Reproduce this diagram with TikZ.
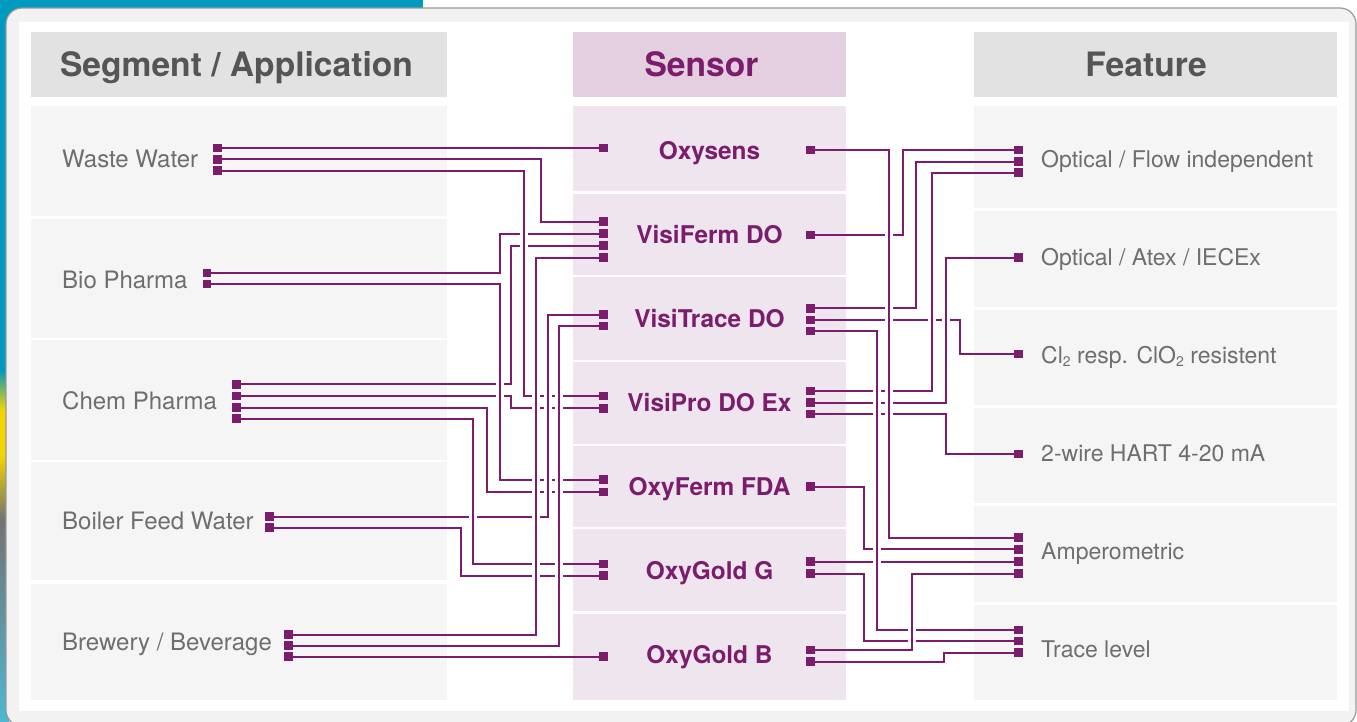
\documentclass[tikz,border=0pt]{standalone}
\usepackage{fontspec}
\setmainfont{TeX Gyre Heros}
\definecolor{pur}{HTML}{7B1C6C}
\definecolor{hdrgray}{HTML}{E2E2E2}
\definecolor{rowgray}{HTML}{F5F5F5}
\definecolor{shdr}{HTML}{E3CFE0}
\definecolor{srow}{HTML}{EEE5EE}
\definecolor{hdrtext}{HTML}{555555}
\definecolor{lbltext}{HTML}{6E6E6E}
\definecolor{panelc}{HTML}{F2F2F2}
\definecolor{bgblue}{HTML}{0099BF}
\definecolor{bgyellow}{HTML}{F2D500}
\tikzset{
 sq/.style={fill=pur, minimum size=8.5pt, inner sep=0pt, outer sep=0pt},
 conn/.style={draw=pur, line width=2pt},
 halo/.style={draw=white, line width=8pt, shorten <=3.5pt, shorten >=3.5pt},
 lbl/.style={anchor=base west, text=lbltext, font=\fontsize{23}{27}\selectfont, inner sep=0pt},
 lbll/.style={lbl, font=\fontsize{24}{28}\selectfont},
 sens/.style={anchor=base, text=pur, font=\fontsize{24.4}{28}\selectfont\bfseries, inner sep=0pt},
 hdr/.style={anchor=base, font=\fontsize{33.6}{38}\selectfont\bfseries, inner sep=0pt},
}
\newcommand\subtwo{\raisebox{-0.28ex}{\fontsize{14}{14}\selectfont 2}}
\begin{document}
\begin{tikzpicture}[x=1pt,y=-1pt]
\useasboundingbox (0,0) rectangle (1357,721);
% background
\fill[white] (0,0) rectangle (1357,721);
\fill[bgblue] (0,0) rectangle (423,14);
\fill[bgblue] (0,0) rectangle (9,721);
\shade[top color=bgblue, bottom color=bgyellow] (0,370) rectangle (9,410);
\fill[bgyellow] (0,410) rectangle (9,455);
\shade[top color=bgyellow, bottom color=black!55] (0,455) rectangle (9,520);
\shade[top color=black!55, bottom color=bgblue!70] (0,520) rectangle (9,721);
% panel
\draw[fill=panelc, draw=black!40, line width=1.2pt, rounded corners=16pt] (6,8) rectangle (1356,726);
\fill[white] (19,21.5) rectangle (1349,711);
% column boxes
\fill[hdrgray] (31,32) rectangle (447,97);
\foreach \t/\b in {106/216,219/338,340/460,462/580,584/700}
  \fill[rowgray] (31,\t) rectangle (447,\b);
\fill[shdr] (573,32) rectangle (846,97);
\foreach \t/\b in {106/191,194/274.5,277/360,362/443.5,446/527,529/611,614/700}
  \fill[srow] (573,\t) rectangle (846,\b);
\fill[hdrgray] (974,32) rectangle (1337,97);
\foreach \t/\b in {106/208,211/306.5,309.5/405,408/503,506/602,605/700}
  \fill[rowgray] (974,\t) rectangle (1337,\b);
% headers
\node[hdr, text=hdrtext] (h1) at (236.5,76) {Segment / Application};
\node[hdr, text=pur] (h2) at (701.5,76) {Sensor};
\node[hdr, text=hdrtext] (h3) at (1146,76) {Feature};
% left labels
\node[lbll] (l1) at (62,167) {Waste Water};
\node[lbll] (l2) at (62,288) {Bio Pharma};
\node[lbll] (l3) at (62,409) {Chem Pharma};
\node[lbll] (l4) at (62,529.5) {Boiler Feed Water};
\node[lbll] (l5) at (62,650.5) {Brewery / Beverage};
% sensor labels
\node[sens] (s1) at (709.5,159.5) {Oxysens};
\node[sens] (s2) at (709.5,243.5) {VisiFerm DO};
\node[sens] (s3) at (709.5,327.5) {VisiTrace DO};
\node[sens] (s4) at (709.5,411.5) {VisiPro DO Ex};
\node[sens] (s5) at (709.5,495.5) {OxyFerm FDA};
\node[sens] (s6) at (709.5,579.5) {OxyGold G};
\node[sens] (s7) at (709.5,663.5) {OxyGold B};
% feature labels
\node[lbl] (r1) at (1041,167) {Optical / Flow independent};
\node[lbl] (r2) at (1041,265) {Optical / Atex / IECEx};
\node[lbl] (r3) at (1041,363.5) {Cl\subtwo{} resp. ClO\subtwo{} resistent};
\node[lbl] (r4) at (1041,461.5) {2-wire HART 4-20 mA};
\node[lbl] (r5) at (1041,559.5) {Amperometric};
\node[lbl] (r6) at (1041,657.5) {Trace level};
% left squares
\node[sq] (ww1) at (217.5,148) {};
\node[sq] (ww2) at (217.5,159.3) {};
\node[sq] (ww3) at (217.5,170.7) {};
\node[sq] (bp1) at (207,273) {};
\node[sq] (bp2) at (207,284) {};
\node[sq] (cp1) at (236.5,384.3) {};
\node[sq] (cp2) at (236.5,396) {};
\node[sq] (cp3) at (236.5,407.7) {};
\node[sq] (cp4) at (236.5,418.7) {};
\node[sq] (bf1) at (269.5,516.7) {};
\node[sq] (bf2) at (269.5,527.7) {};
\node[sq] (bb1) at (288.5,634.7) {};
\node[sq] (bb2) at (288.5,645.7) {};
\node[sq] (bb3) at (288.5,656.7) {};
% sensor left squares
\node[sq] (oxL) at (603.5,148) {};
\node[sq] (vfL1) at (603.5,221.7) {};
\node[sq] (vfL2) at (603.5,233.7) {};
\node[sq] (vfL3) at (603.5,245.7) {};
\node[sq] (vfL4) at (603.5,257.7) {};
\node[sq] (vtL1) at (603.5,314.7) {};
\node[sq] (vtL2) at (603.5,326) {};
\node[sq] (vpL1) at (603.5,396) {};
\node[sq] (vpL2) at (603.5,408.3) {};
\node[sq] (ofL1) at (603.5,479.5) {};
\node[sq] (ofL2) at (603.5,492) {};
\node[sq] (ogL1) at (603.5,564) {};
\node[sq] (ogL2) at (603.5,575.7) {};
\node[sq] (obL) at (603.5,656.7) {};
% sensor right squares
\node[sq] (oxR) at (810.5,150) {};
\node[sq] (vfR) at (810.5,235) {};
\node[sq] (vtR1) at (810.5,308.3) {};
\node[sq] (vtR2) at (810.5,320) {};
\node[sq] (vtR3) at (810.5,331) {};
\node[sq] (vpR1) at (810.5,391) {};
\node[sq] (vpR2) at (810.5,402.7) {};
\node[sq] (vpR3) at (810.5,414) {};
\node[sq] (ofR) at (810.5,486.7) {};
\node[sq] (ogR1) at (810.5,561.7) {};
\node[sq] (ogR2) at (810.5,573.7) {};
\node[sq] (obR1) at (810.5,650) {};
\node[sq] (obR2) at (810.5,661.7) {};
% feature squares
\node[sq] (f1a) at (1018.5,150) {};
\node[sq] (f1b) at (1018.5,161.7) {};
\node[sq] (f1c) at (1018.5,172.7) {};
\node[sq] (f2) at (1018.5,257.7) {};
\node[sq] (f3) at (1018.5,354) {};
\node[sq] (f4) at (1018.5,454) {};
\node[sq] (f5a) at (1018.5,537.7) {};
\node[sq] (f5b) at (1018.5,549.3) {};
\node[sq] (f5c) at (1018.5,561.7) {};
\node[sq] (f5d) at (1018.5,573.7) {};
\node[sq] (f6a) at (1018.5,630) {};
\node[sq] (f6b) at (1018.5,641) {};
\node[sq] (f6c) at (1018.5,652.7) {};
% straight connectors
\draw[conn] (ww1.center) -- (oxL.center);
\draw[conn] (bb3.center) -- (obL.center);
\draw[conn] (ogR1.center) -- (f5c.center);
% routed connectors
\def\connlist{ww2/541/vfL1, ww3/524/vpL1, bp1/500/vfL2, bp2/500/ofL1,
  cp1/511/vfL3, cp2/511/vpL2, cp3/486.7/ofL2, cp4/473/ogL1,
  bf1/548/vtL1, bf2/461/ogL2, bb1/536/vfL4, bb2/559/vtL2,
  oxR/889/f5a, vfR/902.7/f1a, vtR1/916/f1b, vpR1/931.7/f1c,
  vpR2/946/f2, vtR2/960/f3, vtR3/877/f6a, vpR3/946/f4,
  ofR/864/f5b, ogR2/864/f6b, obR1/911.7/f5d, obR2/944/f6c}
\foreach \a/\xx/\b in \connlist
  \draw[conn] (\a.center) -| (\xx,0 |- \b.center) -- (\b.center);
\foreach \a/\xx/\b in \connlist
  \draw[halo] (\xx,0 |- \a.center) -- (\xx,0 |- \b.center);
\foreach \a/\xx/\b in \connlist
  \draw[conn] (\xx,0 |- \a.center) -- (\xx,0 |- \b.center);
\end{tikzpicture}
\end{document}
